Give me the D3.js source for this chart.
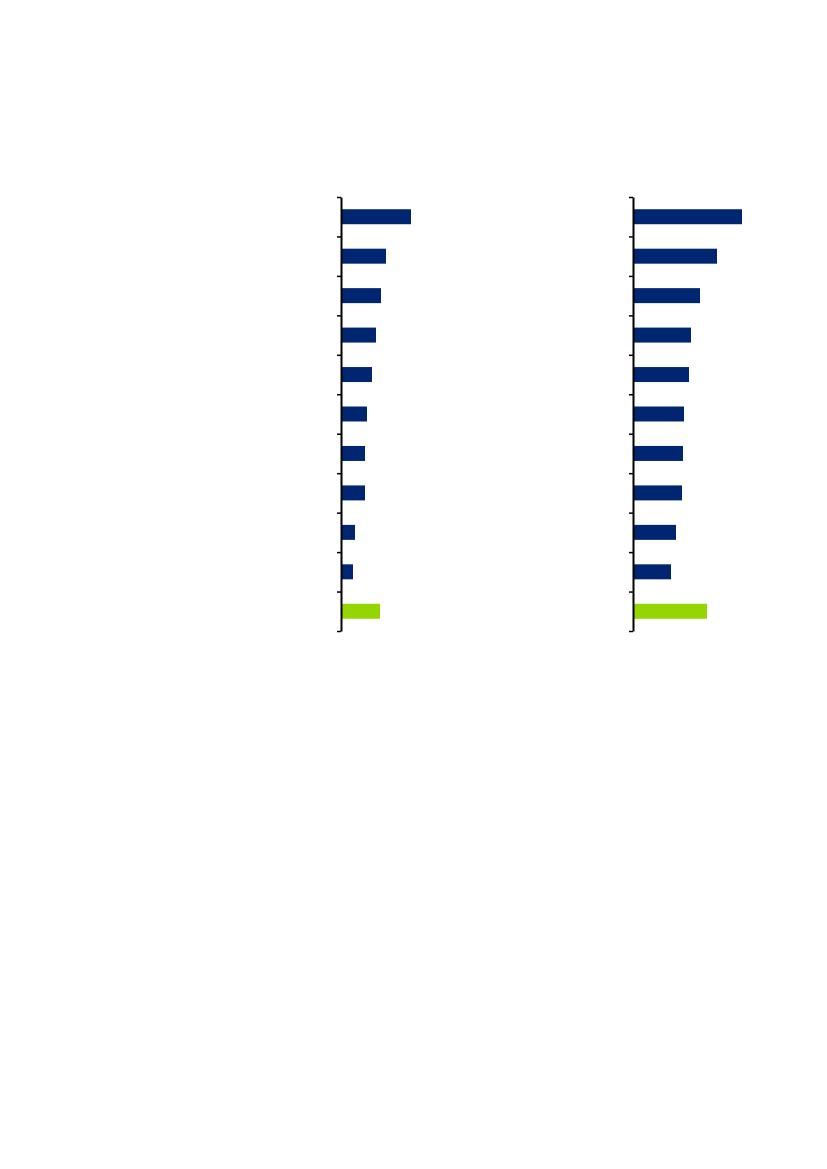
<!DOCTYPE html>
<html>
<head>
<meta charset="utf-8">
<script src="https://cdn.jsdelivr.net/npm/d3@7"></script>
<style>
  html, body { margin: 0; padding: 0; background: #fff; }
  svg { display: block; }
</style>
</head>
<body>
<div id="stage"></div>
<script>
// categories (no labels visible in the reference), top to bottom
const categories = ['c1', 'c2', 'c3', 'c4', 'c5', 'c6', 'c7', 'c8', 'c9', 'c10', 'total'];
const leftValues = [7.0, 4.5, 4.0, 3.5, 3.1, 2.6, 2.4, 2.4, 1.4, 1.2, 3.9];
const rightValues = [10.9, 8.4, 6.7, 5.8, 5.6, 5.1, 5.0, 4.9, 4.3, 3.8, 7.4];
const highlight = 'total';

const NAVY = '#002672', GREEN = '#96d600';
const W = 827, H = 1169, yTop = 197, yBottom = 631;

const svg = d3.select('#stage').append('svg').attr('width', W).attr('height', H);

function panel(x0, values) {
  const g = svg.append('g').attr('transform', `translate(${x0},0)`);
  const x = d3.scaleLinear().domain([0, 10]).range([0, 100]);
  const y = d3.scaleBand().domain(categories).range([yTop, yBottom]).paddingInner(0.62).paddingOuter(0.31);
  const yt = d3.scaleLinear().domain([0, categories.length]).range([yTop, yBottom]);

  g.selectAll('rect').data(categories.map((c, i) => ({ c, v: values[i] }))).join('rect')
    .attr('x', x(0)).attr('y', d => y(d.c))
    .attr('width', d => x(d.v)).attr('height', y.bandwidth())
    .attr('fill', d => d.c === highlight ? GREEN : NAVY);

  // ticks sit on the band boundaries, not the centres
  const ax = g.append('g').call(d3.axisLeft(yt).tickValues(d3.range(categories.length + 1))
    .tickSize(4).tickSizeOuter(0).tickFormat(''));
  ax.select('.domain').attr('stroke', '#000').attr('stroke-width', 2);
  ax.selectAll('.tick line').attr('stroke', '#000').attr('stroke-width', 1.5);
}

panel(341, leftValues);
panel(633, rightValues);
</script>
</body>
</html>
